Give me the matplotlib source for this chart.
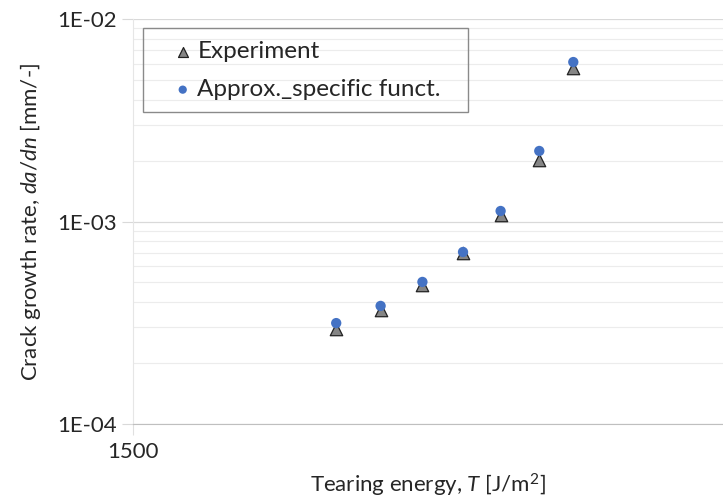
import matplotlib.pyplot as plt
from matplotlib.patches import Rectangle
from matplotlib.ticker import FixedLocator, FixedFormatter, LogLocator, NullFormatter

# tearing energy T [J/m^2]
tearing_energy = [3070, 3590, 4160, 4800, 5480, 6280, 7080]
# crack growth rate da/dn [mm/-]
rate_experiment = [2.94e-4, 3.66e-4, 4.86e-4, 6.99e-4, 1.077e-3, 2.01e-3, 5.73e-3]
rate_approx = [3.15e-4, 3.83e-4, 5.03e-4, 7.07e-4, 1.127e-3, 2.23e-3, 6.13e-3]

y_ticks = [1e-4, 1e-3, 1e-2]
y_tick_labels = ["1E-04", "1E-03", "1E-02"]
x_ticks = [1500]
x_tick_labels = ["1500"]

plt.rcParams["font.family"] = ["Lato", "DejaVu Sans"]
plt.rcParams["mathtext.fontset"] = "custom"
plt.rcParams["mathtext.it"] = "Lato:italic"
plt.rcParams["mathtext.rm"] = "Lato"

text_color = "#262626"
W, H = 723, 503

fig = plt.figure(figsize=(W / 100, H / 100), dpi=100)
ax = fig.add_axes([133 / W, 1 - 424 / H, (W - 133) / W, (424 - 19) / H])

ax.set_xscale("log")
ax.set_yscale("log")
ax.set_xlim(1500, 12000)
ax.set_ylim(1e-4, 1e-2)

ax.scatter(tearing_energy, rate_experiment, marker="^", s=80, color="#858585",
           edgecolors="#222222", linewidths=0.9, zorder=3, label="Experiment")
ax.scatter(tearing_energy, rate_approx, marker="o", s=55, color="#4472c4",
           edgecolors="none", zorder=4, label="Approx._specific funct.")

ax.yaxis.set_major_locator(FixedLocator(y_ticks))
ax.yaxis.set_major_formatter(FixedFormatter(y_tick_labels))
ax.yaxis.set_minor_locator(LogLocator(base=10, subs=range(2, 10)))
ax.yaxis.set_minor_formatter(NullFormatter())
ax.xaxis.set_major_locator(FixedLocator(x_ticks))
ax.xaxis.set_major_formatter(FixedFormatter(x_tick_labels))
ax.xaxis.set_minor_locator(FixedLocator([]))

ax.grid(which="major", axis="y", color="#d9d9d9", lw=0.9)
ax.grid(which="minor", axis="y", color="#ececec", lw=0.8)
ax.set_axisbelow(True)

for side in ["top", "right"]:
    ax.spines[side].set_visible(False)
ax.spines["bottom"].set_color("#bfbfbf")
ax.spines["left"].set_color("#e6e6e6")
ax.tick_params(axis="y", which="major", length=8, color="#d9d9d9", labelsize=16,
               labelcolor=text_color, pad=4)
ax.tick_params(axis="y", which="minor", length=0)
ax.tick_params(axis="x", which="major", length=8, color="#e0e0e0", labelsize=16,
               labelcolor=text_color, pad=5)

ax.set_ylabel("Crack growth rate, $da/dn$ [mm/-]", fontsize=16, color=text_color, labelpad=10)
ax.set_xlabel("Tearing energy, $T$ [J/m$^2$]", fontsize=16, color=text_color, labelpad=7)

# legend entries without frame, boxed by a separate rectangle
leg = ax.legend(loc="upper left", bbox_to_anchor=(173 / W, 1 - 41 / H),
                bbox_transform=fig.transFigure, fontsize=17.5, frameon=False,
                borderpad=0, labelspacing=0.7, handletextpad=0.2,
                handlelength=0.8, borderaxespad=0, markerscale=0.8)
for t in leg.get_texts():
    t.set_color(text_color)
fig.patches.append(Rectangle((143 / W, 1 - 112 / H), (468 - 143) / W, (112 - 28) / H,
                             transform=fig.transFigure, fill=False,
                             edgecolor="#8a8a8a", lw=1.0, zorder=5))

fig.savefig("out.png", dpi=100)
